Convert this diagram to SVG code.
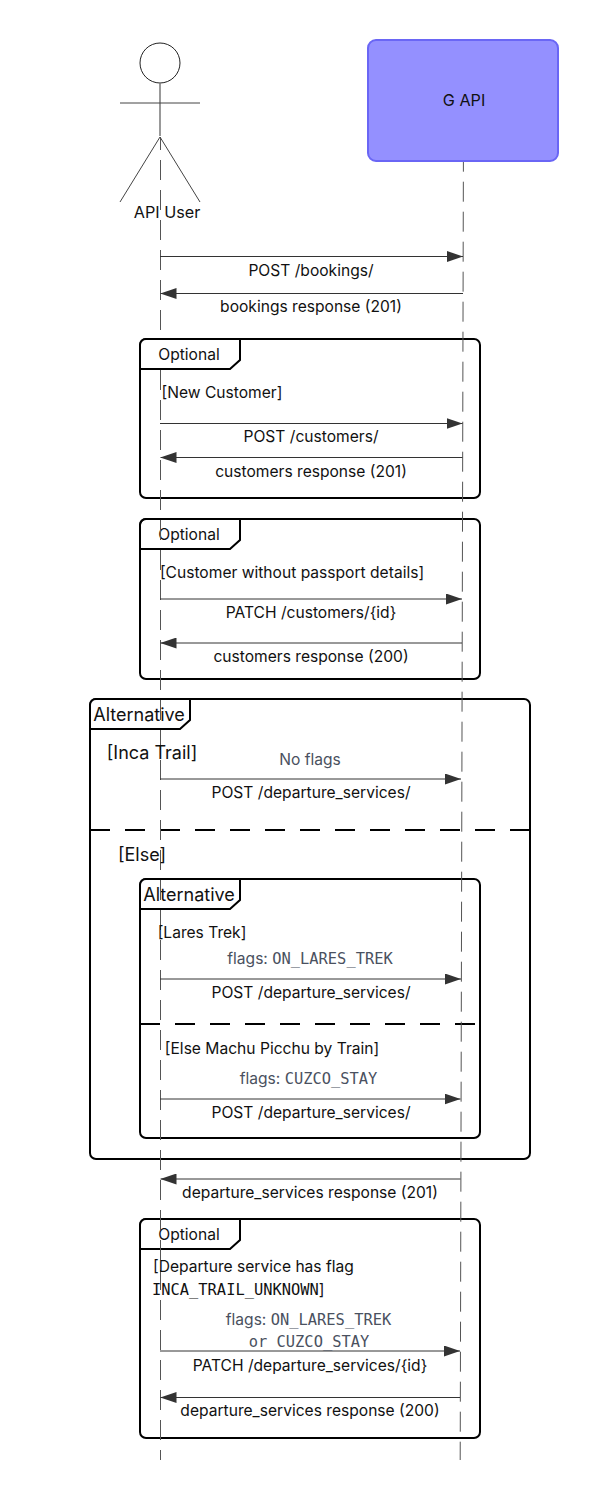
<svg xmlns="http://www.w3.org/2000/svg" width="598" height="1499" viewBox="0 0 598 1499">
<defs>
<marker id="ah" markerWidth="16" markerHeight="11" refX="16" refY="5.5" orient="auto" markerUnits="userSpaceOnUse"><path d="M0,0 L16,5.5 L0,11 Z" fill="#333"/></marker>
</defs>
<style>
text{font-family:Inter,"Liberation Sans",sans-serif;font-size:15.6px;fill:#111;text-anchor:middle}
.m{font-family:"DejaVu Sans Mono","Liberation Mono",monospace;font-size:15.4px}
.g{fill:#4a5160}
.s{text-anchor:start}
.big{font-size:18px}
.life{stroke:#555;stroke-width:1;fill:none;stroke-dasharray:20 10}
.msg{stroke:#333;stroke-width:1;fill:none;marker-end:url(#ah)}
.frame{fill:none;stroke:#000;stroke-width:2}
.tab{fill:#fff;stroke:#000;stroke-width:2}
</style>
<rect width="598" height="1499" fill="#fff"/>
<g id="frames">
<rect class="frame" x="140" y="339" width="340" height="159" rx="6"/>
<path class="tab" d="M140,525 a6,6 0 0 1 6,-6 H240 V540 L230,549 H140 Z"/>
<rect class="frame" x="140" y="519" width="340" height="160" rx="6"/>
<text x="189" y="540">Optional</text>
<rect class="frame" x="90" y="699" width="440" height="460" rx="6"/>
<path class="tab" d="M90,705 a6,6 0 0 1 6,-6 H190 V720 L180,729 H90 Z"/>
<text x="139" y="720.6" class="big">Alternative</text>
<line x1="90" y1="830" x2="530" y2="830" stroke="#000" stroke-width="2" stroke-dasharray="20 15"/>
<rect class="frame" x="140" y="879" width="340" height="259" rx="6"/>
<path class="tab" d="M140,885 a6,6 0 0 1 6,-6 H240 V900 L230,909 H140 Z"/>
<text x="189" y="900.6" class="big">Alternative</text>
<line x1="140" y1="1024" x2="480" y2="1024" stroke="#000" stroke-width="2" stroke-dasharray="20 15"/>
<rect class="frame" x="140" y="1219" width="340" height="219" rx="6"/>
<path class="tab" d="M140,1225 a6,6 0 0 1 6,-6 H240 V1240 L230,1249 H140 Z"/>
<text x="189" y="1240">Optional</text>
</g>
<g id="connectors">
<line class="life" x1="160.5" y1="137" x2="160.5" y2="1460" stroke-dashoffset="7"/>
<line class="life" x1="463.4" y1="161.7" x2="460.2" y2="1460" stroke-dashoffset="10"/>
<line class="msg" x1="160" y1="256.5" x2="463" y2="256.5"/>
<line class="msg" x1="463" y1="293.5" x2="160.5" y2="293.5"/>
<line class="msg" x1="160" y1="423.5" x2="462.5" y2="423.5"/>
<line class="msg" x1="462.5" y1="457.5" x2="160.5" y2="457.5"/>
<line class="msg" x1="160" y1="599" x2="462" y2="599"/>
<line class="msg" x1="462" y1="643" x2="160.5" y2="643"/>
<line class="msg" x1="160" y1="779" x2="461" y2="779"/>
<line class="msg" x1="160" y1="979" x2="461" y2="979"/>
<line class="msg" x1="160" y1="1099" x2="460.5" y2="1099"/>
<line class="msg" x1="460.5" y1="1179" x2="160.5" y2="1179"/>
<line class="msg" x1="160" y1="1351" x2="460" y2="1351"/>
<line class="msg" x1="460" y1="1397.5" x2="160.5" y2="1397.5"/>
</g>
<g id="optional-1">
<path class="tab" d="M140,345 a6,6 0 0 1 6,-6 H240 V360 L230,369 H140 Z"/>
<text x="189" y="360">Optional</text>
</g>
<g id="api-user" fill="none" stroke="#444">
<circle cx="160" cy="63" r="20" fill="#fff" stroke="#222"/>
<line x1="160" y1="83" x2="160" y2="136" stroke="#777" stroke-width="1.5"/>
<line x1="120" y1="103" x2="200" y2="103"/>
<path d="M120,202 L160,137 L200,202"/>
<text x="167" y="217.5" stroke="none" style="font-size:16.2px">API User</text>
</g>
<g id="g-api">
<rect x="368" y="40" width="190" height="121" rx="8" fill="#9490ff" stroke="#6a66f5" stroke-width="2"/>
<text x="464" y="106" style="font-size:16.2px">G API</text>
</g>
<g id="labels">
<text x="311" y="276">POST /bookings/</text>
<text x="311" y="312">bookings response (201)</text>
<text x="222" y="398">[New Customer]</text>
<text x="311" y="442">POST /customers/</text>
<text x="311" y="477">customers response (201)</text>
<text x="292" y="578">[Customer without passport details]</text>
<text x="311" y="618">PATCH /customers/{id}</text>
<text x="311" y="662">customers response (200)</text>
<text x="152" y="759" class="big">[Inca Trail]</text>
<text x="310" y="765" class="g">No flags</text>
<text x="311" y="798">POST /departure_services/</text>
<text x="142" y="861" class="big">[Else]</text>
<text x="202" y="938">[Lares Trek]</text>
<text x="310" y="964"><tspan class="g">flags: </tspan><tspan class="m g">ON_LARES_TREK</tspan></text>
<text x="311" y="998">POST /departure_services/</text>
<text x="272" y="1053.5">[Else Machu Picchu by Train]</text>
<text x="308.5" y="1084"><tspan class="g">flags: </tspan><tspan class="m g">CUZCO_STAY</tspan></text>
<text x="311" y="1118">POST /departure_services/</text>
<text x="310" y="1198">departure_services response (201)</text>
<text x="153" y="1272" class="s">[Departure service has flag</text>
<text x="152" y="1295" class="s"><tspan class="m">INCA_TRAIL_UNKNOWN</tspan>]</text>
<text x="308.5" y="1325"><tspan class="g">flags: </tspan><tspan class="m g">ON_LARES_TREK</tspan></text>
<text x="309" y="1347" class="m g">or CUZCO_STAY</text>
<text x="310" y="1370.5">PATCH /departure_services/{id}</text>
<text x="310" y="1416">departure_services response (200)</text>
</g>
</svg>
